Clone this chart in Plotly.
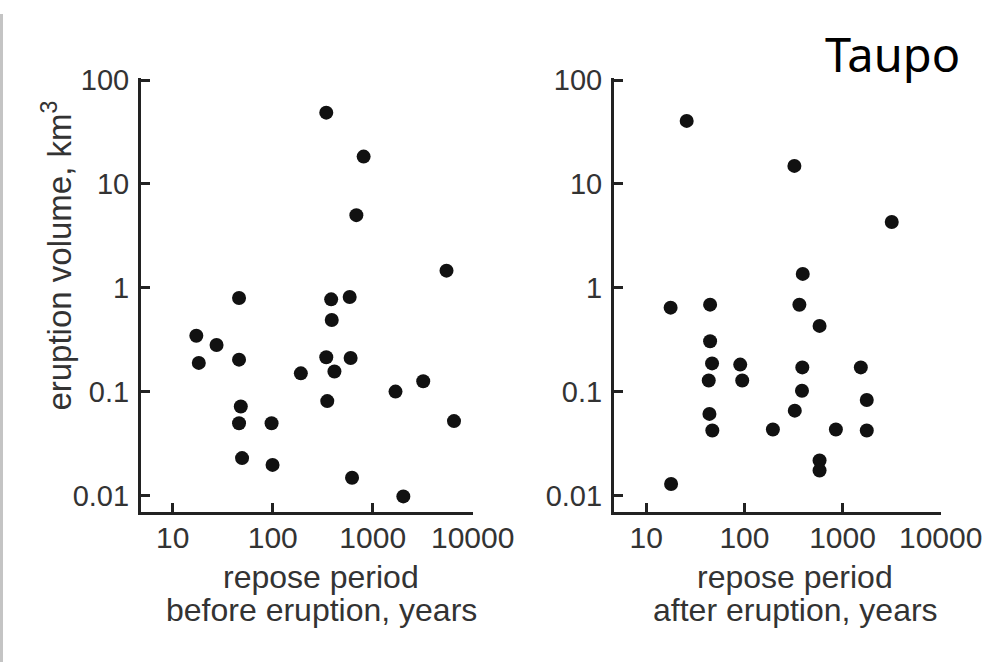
import plotly.graph_objects as go

# ---- data ----
repose_before_years = [343, 811, 686, 5470, 46, 384, 588, 389, 17.2, 27.4, 18.2, 46, 343, 601,
                       414, 191, 3200, 1690, 351, 47.9, 46, 97.3, 6500, 49.3, 99.5, 621, 2024]
volume_before_km3 = [48.5, 18.3, 5.0, 1.46, 0.796, 0.773, 0.815, 0.489, 0.345, 0.281, 0.189, 0.203,
                     0.214, 0.211, 0.156, 0.150, 0.126, 0.100, 0.081, 0.0718, 0.0496, 0.0496, 0.052,
                     0.0229, 0.0197, 0.0148, 0.0098]

repose_after_years = [25.8, 323, 3170, 393, 17.7, 44.7, 363, 583, 44.7, 46.8, 90.6, 389, 1535, 43.3,
                      95, 386, 1765, 326, 44, 47.1, 195, 855, 1765, 583, 583, 17.9]
volume_after_km3 = [40.4, 14.9, 4.29, 1.36, 0.643, 0.687, 0.685, 0.429, 0.305, 0.187, 0.182, 0.171,
                    0.171, 0.128, 0.128, 0.102, 0.083, 0.0656, 0.061, 0.0422, 0.0432, 0.0432, 0.0422,
                    0.0217, 0.0174, 0.0129]

x_tickvals = [10, 100, 1000, 10000]
x_ticktext = ["10", "100", "1000", "10000"]
y_tickvals = [100, 10, 1, 0.1, 0.01]
y_ticktext = ["100", "10", "1", "0.1", "0.01"]

W, H = 999, 662
# the photographed page maps page pixels to picture pixels with these factors
SX, SY, OY = 0.961, 0.98, 13.0

XTICKFONT = dict(family="Liberation Sans, Arial, sans-serif", size=30, color="#333333")
YTICKFONT = dict(family="Liberation Sans, Arial, sans-serif", size=29, color="#333333")
XTITLEFONT = dict(family="Liberation Sans, Arial, sans-serif", size=32, color="#333333")
YTITLEFONT = dict(family="Liberation Sans, Arial, sans-serif", size=33, color="#333333")
AXCOL = "#222222"


def px(v):
    """picture x (pixels) -> paper fraction"""
    return (v / SX) / W


def py(v):
    """picture y (pixels from top) -> paper fraction"""
    return 1 - ((v - OY) / SY) / H


fig = go.Figure()
marker = dict(size=14, color="#111111", line=dict(width=0))
fig.add_trace(go.Scatter(x=repose_before_years, y=volume_before_km3, mode="markers",
                         marker=marker, xaxis="x", yaxis="y", showlegend=False))
fig.add_trace(go.Scatter(x=repose_after_years, y=volume_after_km3, mode="markers",
                         marker=marker, xaxis="x2", yaxis="y2", showlegend=False))

ydom = [py(512), py(77)]
common_x = dict(type="log", showline=True, linecolor=AXCOL, linewidth=2.5, mirror=False,
                ticks="inside", ticklen=10, tickwidth=2.5, tickcolor=AXCOL,
                tickmode="array", tickvals=x_tickvals, ticktext=x_ticktext,
                tickfont=XTICKFONT, showgrid=False, zeroline=False, ticklabelstandoff=-3)
common_y = dict(type="log", showline=True, linecolor=AXCOL, linewidth=2.5, mirror=False,
                ticks="inside", ticklen=10, tickwidth=2.5, tickcolor=AXCOL,
                tickmode="array", tickvals=y_tickvals, ticktext=y_ticktext,
                tickfont=YTICKFONT, showgrid=False, zeroline=False, range=[-2.163, 2.02],
                domain=ydom, ticklabelstandoff=3)

fig.update_layout(
    width=W, height=H,
    margin=dict(l=0, r=0, t=0, b=0),
    paper_bgcolor="white", plot_bgcolor="white",
    xaxis=dict(common_x, domain=[px(141), px(474)], range=[0.679, 4.003], anchor="y"),
    yaxis=dict(common_y, anchor="x"),
    xaxis2=dict(common_x, domain=[px(615), px(943)], range=[0.668, 4.003], anchor="y2"),
    yaxis2=dict(common_y, anchor="x2"),
)

ann = []


def add_text(text, x, y, font, angle=0):
    ann.append(dict(text=text, x=px(x), y=py(y), xref="paper", yref="paper",
                    xanchor="center", yanchor="middle", showarrow=False, font=font,
                    textangle=angle))


add_text("repose period", 322, 577, XTITLEFONT)
add_text("before eruption, years", 322, 610, XTITLEFONT)
add_text("repose period", 797, 577, XTITLEFONT)
add_text("after eruption, years", 797, 610, XTITLEFONT)
add_text("eruption volume, km<sup>3</sup>", 57, 255, YTITLEFONT, angle=-90)
add_text("Taupo", 894, 53, dict(family="Noto Sans, Lato, sans-serif", size=47, color="#000000"))
fig.update_layout(annotations=ann)

# light grey frame along the left edge of the picture
fig.add_shape(type="rect", xref="paper", yref="paper", x0=0, x1=px(3), y0=0, y1=1,
              fillcolor="#c4c4c4", line=dict(width=0), layer="below")

post = (
    "document.documentElement.style.margin='0';"
    "document.body.style.margin='0';"
    "document.body.style.overflow='hidden';"
    "var gd=document.getElementById('{plot_id}');"
    "gd.style.position='fixed';gd.style.left='0px';gd.style.top='0px';"
)
fig.write_html("out.html", config={"displayModeBar": False}, post_script=post)
